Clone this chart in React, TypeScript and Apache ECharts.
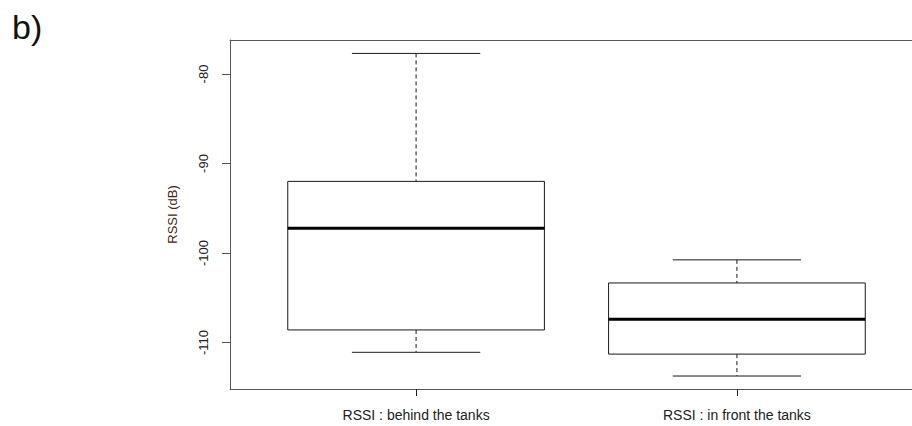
import React, { useEffect, useRef } from "react";
import * as echarts from "echarts";

const categories = ["RSSI : behind the tanks", "RSSI : in front the tanks"];
const positions = [1, 2];
// [min, Q1, median, Q3, max]
const lowerWhisker = [-111.1, -113.75];
const q1 = [-108.6, -111.3];
const median = [-97.25, -107.4];
const q3 = [-92.0, -103.35];
const upperWhisker = [-77.7, -100.77];
const yTicks = [-80, -90, -100, -110];

const seriesData = positions.map((p, i) => [
  p,
  lowerWhisker[i],
  q1[i],
  median[i],
  q3[i],
  upperWhisker[i],
]);

const FONT = "'Liberation Sans', Arial, sans-serif";

export default function App() {
  const ref = useRef<HTMLDivElement>(null);
  useEffect(() => {
    if (!ref.current) return;
    const chart = echarts.init(ref.current, null, { renderer: "svg" });
    const stroke = "#1a1a1a";
    chart.setOption({
      animation: false,
      backgroundColor: "#ffffff",
      title: {
        text: "b)",
        left: 7,
        top: 5,
        textStyle: { fontSize: 34, fontWeight: "normal", color: "#111", fontFamily: FONT },
      },
      grid: { left: 230, top: 40, bottom: 37, right: 1 },
      xAxis: [
        {
          type: "value",
          min: 0.42,
          max: 2.58,
          splitLine: { show: false },
          axisLine: { show: true, lineStyle: { color: "#555", width: 1 } },
          axisTick: {
            show: true,
            length: 7,
            customValues: positions,
            lineStyle: { color: "#222" },
          },
          axisLabel: {
            customValues: positions,
            margin: 19,
            fontSize: 14,
            color: "#222",
            fontFamily: FONT,
            formatter: (v: number) => {
              const idx = positions.indexOf(Math.round(v));
              return idx >= 0 ? categories[idx] : "";
            },
          },
        },
        {
          type: "value",
          position: "top",
          min: 0.42,
          max: 2.58,
          splitLine: { show: false },
          axisLine: { show: true, lineStyle: { color: "#555", width: 1 } },
          axisTick: { show: false },
          axisLabel: { show: false },
        },
      ],
      yAxis: {
        type: "value",
        min: -115.2,
        max: -76.2,
        name: "RSSI (dB)",
        nameLocation: "middle",
        nameRotate: 90,
        nameGap: 51,
        nameTextStyle: { fontSize: 13, color: "#4a2222", fontFamily: FONT },
        splitLine: { show: false },
        axisLine: { show: true, lineStyle: { color: "#555", width: 1 } },
        axisTick: {
          show: true,
          length: 8,
          customValues: yTicks,
          lineStyle: { color: "#555" },
        },
        axisLabel: {
          customValues: yTicks,
          rotate: 90,
          margin: 20,
          fontSize: 13,
          color: "#222",
          fontFamily: FONT,
        },
      },
      series: [
        {
          type: "custom",
          xAxisIndex: 0,
          yAxisIndex: 0,
          data: seriesData,
          encode: { x: 0, y: [1, 2, 3, 4, 5] },
          renderItem: (params: any, api: any) => {
            const x = api.value(0);
            const vMin = api.value(1);
            const vQ1 = api.value(2);
            const vMed = api.value(3);
            const vQ3 = api.value(4);
            const vMax = api.value(5);
            const bw = api.size([0.8, 0])[0];
            const half = bw / 2;
            const cap = bw / 4;
            const pMin = api.coord([x, vMin]);
            const pQ1 = api.coord([x, vQ1]);
            const pMed = api.coord([x, vMed]);
            const pQ3 = api.coord([x, vQ3]);
            const pMax = api.coord([x, vMax]);
            const cx = pMed[0];
            return {
              type: "group",
              children: [
                {
                  type: "line",
                  shape: { x1: cx, y1: pMax[1], x2: cx, y2: pQ3[1] },
                  style: { stroke, lineWidth: 1, lineDash: [4, 3] },
                },
                {
                  type: "line",
                  shape: { x1: cx, y1: pQ1[1], x2: cx, y2: pMin[1] },
                  style: { stroke, lineWidth: 1, lineDash: [4, 3] },
                },
                {
                  type: "line",
                  shape: { x1: cx - cap, y1: pMax[1], x2: cx + cap, y2: pMax[1] },
                  style: { stroke, lineWidth: 1 },
                },
                {
                  type: "line",
                  shape: { x1: cx - cap, y1: pMin[1], x2: cx + cap, y2: pMin[1] },
                  style: { stroke, lineWidth: 1 },
                },
                {
                  type: "rect",
                  shape: { x: cx - half, y: pQ3[1], width: bw, height: pQ1[1] - pQ3[1] },
                  style: { fill: "#ffffff", stroke, lineWidth: 1 },
                },
                {
                  type: "line",
                  shape: { x1: cx - half, y1: pMed[1], x2: cx + half, y2: pMed[1] },
                  style: { stroke: "#000", lineWidth: 3 },
                },
              ],
            };
          },
        },
      ],
    });
    return () => chart.dispose();
  }, []);
  return (
    <div style={{ position: "absolute", left: 0, top: 0, width: 912, height: 426, overflow: "hidden" }}>
      <div ref={ref} style={{ width: 924, height: 426 }} />
    </div>
  );
}
